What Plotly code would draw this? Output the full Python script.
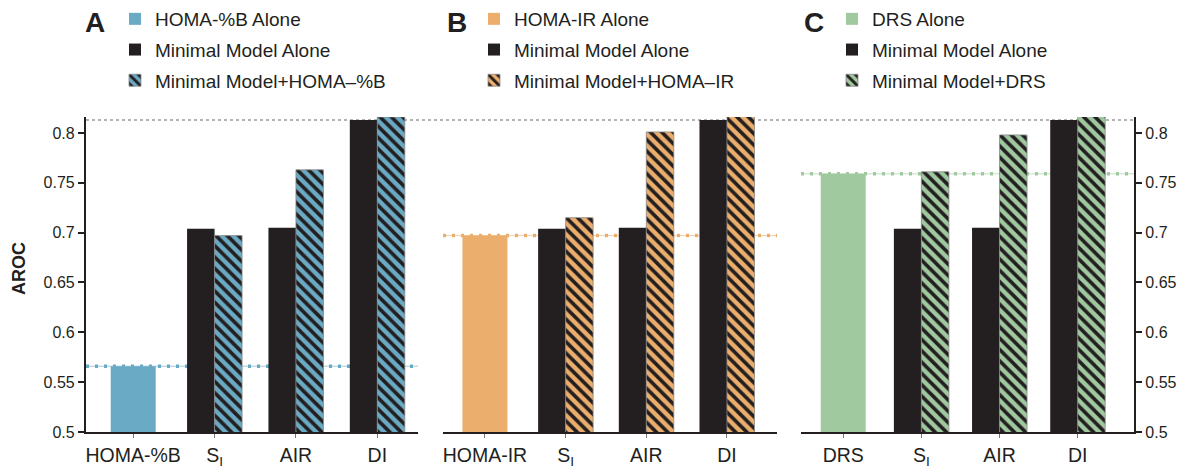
import plotly.graph_objects as go

# ---------------- data ----------------
cats_A = ["HOMA-%B", "S<sub>I</sub>", "AIR", "DI"]
cats_B = ["HOMA-IR", "S<sub>I</sub>", "AIR", "DI"]
cats_C = ["DRS", "S<sub>I</sub>", "AIR", "DI"]
mm_cats = ["S<sub>I</sub>", "AIR", "DI"]

mm_alone = [0.704, 0.705, 0.813]

homa_b_alone = [0.566]
mm_plus_homa_b = [0.697, 0.763, 0.816]

homa_ir_alone = [0.697]
mm_plus_homa_ir = [0.715, 0.801, 0.818]

drs_alone = [0.759]
mm_plus_drs = [0.761, 0.798, 0.819]

y_tick_vals = [0.5, 0.55, 0.6, 0.65, 0.7, 0.75, 0.8]
y_tick_text = ["0.5", "0.55", "0.6", "0.65", "0.7", "0.75", "0.8"]

names_A = ["HOMA-%B Alone", "Minimal Model Alone", "Minimal Model+HOMA\u2013%B"]
names_B = ["HOMA-IR Alone", "Minimal Model Alone", "Minimal Model+HOMA\u2013IR"]
names_C = ["DRS Alone", "Minimal Model Alone", "Minimal Model+DRS"]

# ---------------- style ----------------
BLUE = "#6AAAC4"
ORANGE = "#EBAE6C"
GREEN = "#A1C9A0"
BLACK = "#231F20"
FONT = "Liberation Sans, Arial, sans-serif"

W, H = 1190, 471
def px(x):
    return x / W
def py(y):
    return 1 - y / H

y_dom = [py(432), py(117)]
y_range = [0.5, 0.816]

panels = [
    dict(cats=cats_A, single=homa_b_alone, combo=mm_plus_homa_b, names=names_A, color=BLUE,
         dom=[px(86), px(418)], rng=[-0.58, 3.5], legend="legend", letter="A", lx=95, legx=115),
    dict(cats=cats_B, single=homa_ir_alone, combo=mm_plus_homa_ir, names=names_B, color=ORANGE,
         dom=[px(443), px(777)], rng=[-0.52, 3.62], legend="legend2", letter="B", lx=457, legx=474),
    dict(cats=cats_C, single=drs_alone, combo=mm_plus_drs, names=names_C, color=GREEN,
         dom=[px(801), px(1134)], rng=[-0.54, 3.72], legend="legend3", letter="C", lx=814, legx=832),
]

fig = go.Figure()
shapes = []
annotations = []
BAR_PX = 27.5
SINGLE_PX = 45

for i, p in enumerate(panels):
    sfx = "" if i == 0 else str(i + 1)
    xa, ya = "x" + sfx, "y" + sfx
    span_px = (p["dom"][1] - p["dom"][0]) * W
    unit_px = span_px / (p["rng"][1] - p["rng"][0])
    bw = BAR_PX / unit_px
    sw = SINGLE_PX / unit_px

    fig.add_trace(go.Bar(
        x=p["cats"][:1], y=p["single"], name=p["names"][0],
        marker=dict(color=p["color"], line=dict(width=0)),
        width=sw, offset=-sw / 2, xaxis=xa, yaxis=ya,
        legend=p["legend"], legendgroup=p["legend"] + "a",
    ))
    fig.add_trace(go.Bar(
        x=mm_cats, y=mm_alone, name=p["names"][1],
        marker=dict(color=BLACK, line=dict(width=0)),
        width=bw, offset=-bw, xaxis=xa, yaxis=ya,
        legend=p["legend"], legendgroup=p["legend"] + "b",
    ))
    fig.add_trace(go.Bar(
        x=mm_cats, y=p["combo"], name=p["names"][2],
        marker=dict(color=p["color"], line=dict(width=0.8, color="#888"),
                    pattern=dict(shape="\\", fgcolor=BLACK, bgcolor=p["color"],
                                 size=8, solidity=0.45, fillmode="replace")),
        width=bw, offset=0, xaxis=xa, yaxis=ya,
        legend=p["legend"], legendgroup=p["legend"] + "c",
    ))

    # reference line at the "alone" value
    shapes.append(dict(type="line", xref=xa + " domain", x0=0, x1=1, yref=ya,
                       y0=p["single"][0], y1=p["single"][0], layer="below",
                       line=dict(color=p["color"], width=1), opacity=0.6))
    shapes.append(dict(type="line", xref=xa + " domain", x0=0, x1=1, yref=ya,
                       y0=p["single"][0], y1=p["single"][0], layer="below",
                       line=dict(color=p["color"], width=3.5, dash="3px,6px")))

    annotations.append(dict(text="<b>" + p["letter"] + "</b>", x=px(p["lx"]), y=py(23),
                            xref="paper", yref="paper", showarrow=False,
                            xanchor="center", yanchor="middle",
                            font=dict(family=FONT, size=28, color=BLACK)))

# grey dotted line at the Minimal-Model DI value across all panels
shapes.append(dict(type="line", xref="paper", x0=px(86), x1=px(1134), yref="y",
                   y0=mm_alone[2], y1=mm_alone[2], layer="below",
                   line=dict(color="#9a9a9a", width=1.5, dash="dot")))

annotations.append(dict(text="<b>AROC</b>", x=px(19), y=py(269), xref="paper", yref="paper",
                        showarrow=False, textangle=-90, xanchor="center", yanchor="middle",
                        font=dict(family=FONT, size=18, color=BLACK)))

common_x = dict(type="category", showline=True, linecolor=BLACK, linewidth=2.2,
                ticks="outside", ticklen=4, tickcolor="#777", tickwidth=1,
                tickfont=dict(family=FONT, size=19.5, color=BLACK),
                showgrid=False, zeroline=False, automargin=False, fixedrange=True)
common_y = dict(range=y_range, domain=y_dom, showgrid=False, zeroline=False,
                automargin=False, fixedrange=True)

layout = dict(width=W, height=H, margin=dict(l=0, r=0, t=0, b=0),
              paper_bgcolor="white", plot_bgcolor="rgba(0,0,0,0)",
              barmode="overlay", shapes=shapes, annotations=annotations,
              font=dict(family=FONT, color=BLACK))

for i, p in enumerate(panels):
    sfx = "" if i == 0 else str(i + 1)
    layout["xaxis" + sfx] = dict(common_x, domain=p["dom"], range=p["rng"],
                                 categoryorder="array", categoryarray=p["cats"],
                                 anchor="y" + sfx)
    if i == 0:
        ya = dict(common_y, showline=True, linecolor=BLACK, linewidth=2.2, ticks="outside",
                  ticklen=6, tickwidth=1.5, tickcolor=BLACK, tickvals=y_tick_vals,
                  ticktext=y_tick_text, tickfont=dict(family=FONT, size=16, color=BLACK),
                  anchor="x")
    elif i == 1:
        ya = dict(common_y, showline=False, showticklabels=False, ticks="", anchor="x2")
    else:
        ya = dict(common_y, showline=True, linecolor=BLACK, linewidth=2.2, ticks="outside",
                  ticklen=6, tickwidth=1.5, tickcolor=BLACK, tickvals=y_tick_vals,
                  ticktext=y_tick_text, tickfont=dict(family=FONT, size=16, color=BLACK),
                  side="right", anchor="x3")
    layout["yaxis" + sfx] = ya

    layout[p["legend"]] = dict(x=px(p["legx"]), y=1.0, xref="paper", yref="paper",
                               xanchor="left", yanchor="top", bgcolor="rgba(0,0,0,0)",
                               font=dict(family=FONT, size=19, color=BLACK),
                               traceorder="grouped", tracegroupgap=3, orientation="v")

fig.update_layout(**layout)
fig.write_html("out.html")
